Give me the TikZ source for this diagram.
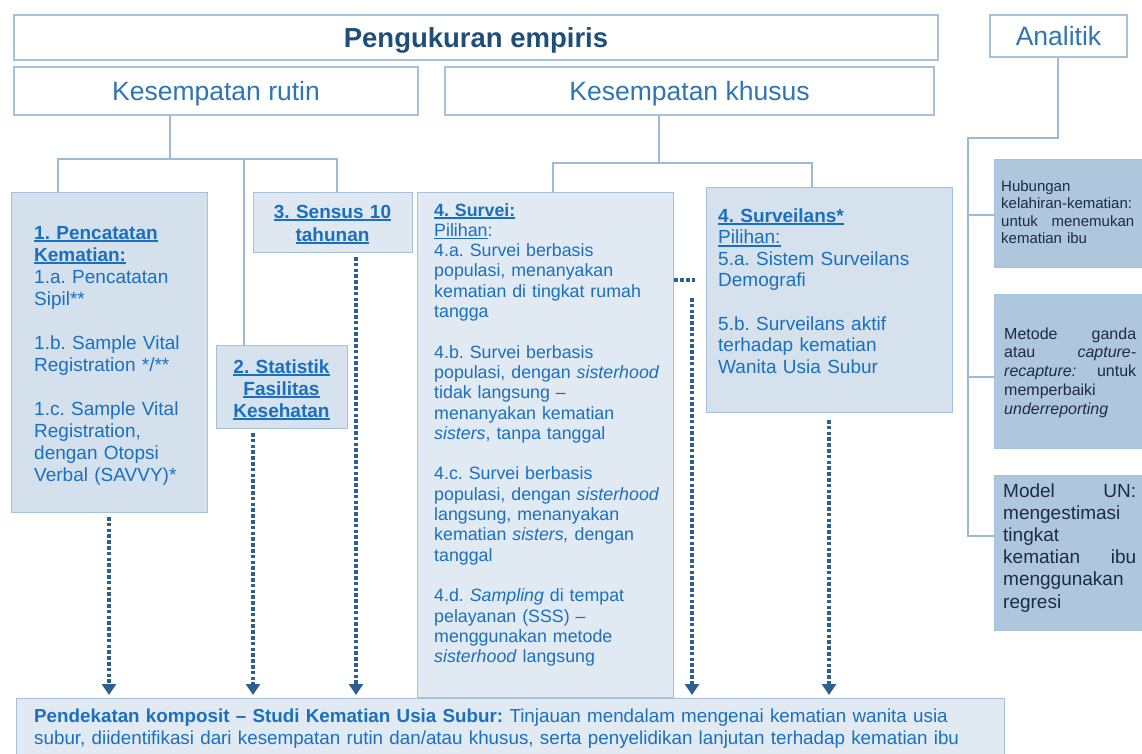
\documentclass[tikz,border=0pt]{standalone}
\usepackage{fontspec}
\setmainfont{Liberation Sans}
\usetikzlibrary{arrows.meta,calc}
\frenchspacing

\definecolor{frame}{HTML}{A7C0DB}
\definecolor{wire}{HTML}{9DB9D8}
\definecolor{titleblue}{HTML}{1F4E79}
\definecolor{headblue}{HTML}{2E75B6}
\definecolor{bodyblue}{HTML}{1A6FBF}
\definecolor{darktext}{HTML}{1E2B44}
\definecolor{dotblue}{HTML}{2D5F91}
\definecolor{fillA}{HTML}{D4E1ED}
\definecolor{fillB}{HTML}{D6E2EE}
\definecolor{fillC}{HTML}{DFE8F1}
\definecolor{fillD}{HTML}{E1EAF3}
\definecolor{fillE}{HTML}{D5E1EC}
\definecolor{fillF}{HTML}{AFC7DD}

% thick rule under a piece of text
\newcommand\ulin[1]{\leavevmode\setbox0\hbox{#1}\rlap{\rule[-3pt]{\wd0}{1.7pt}}\box0}

\tikzset{
  boxshape/.style={draw=frame, line width=1.4pt, inner sep=0pt, anchor=north west},
  headbox/.style={boxshape, fill=white, anchor=center, text depth=0pt},
  txt/.style={inner sep=0pt, anchor=base west, align=left, text=bodyblue},
  ctxt/.style={inner sep=0pt, anchor=base, align=center, text=bodyblue},
  conn/.style={draw=wire, line width=1.3pt},
  dotline/.style={draw=dotblue, line width=4.4pt, dash pattern=on 3.6pt off 2.2pt},
  dotarrow/.style={dotline, -{Triangle[length=11pt,width=14pt]}, shorten >=3pt},
}

\begin{document}
\begin{tikzpicture}[x=1pt,y=-1pt]
\useasboundingbox (0,0) rectangle (1142,754);

% ---- headers ----
\node[headbox, minimum width=924, minimum height=45, text=titleblue,
      font=\fontsize{27.5}{30}\selectfont\bfseries] (emp) at (476,37.5) {Pengukuran empiris};
\node[headbox, minimum width=137, minimum height=42, text=headblue,
      font=\fontsize{26.5}{30}\selectfont] (anal) at (1058.5,36) {Analitik};
\node[headbox, minimum width=404, minimum height=48, text=headblue,
      font=\fontsize{26.5}{30}\selectfont] (rutin) at (216,91) {Kesempatan rutin};
\node[headbox, minimum width=489, minimum height=48, text=headblue,
      font=\fontsize{26.5}{30}\selectfont] (khusus) at (689.5,91) {Kesempatan khusus};

% ---- routine sources ----
\node[boxshape, fill=fillA, minimum width=196, minimum height=320] (b1) at (11,192) {};
\node[txt, text width=170, font=\fontsize{19}{22}\selectfont] (b1t) at (34,239)
  {\textbf{\ulin{1. Pencatatan}}\\
   \textbf{\ulin{Kematian:}}\\
   1.a. Pencatatan\\
   Sipil**\\[22pt]
   1.b. Sample Vital\\
   Registration */**\\[22pt]
   1.c. Sample Vital\\
   Registration,\\
   dengan Otopsi\\
   Verbal (SAVVY)*};

\node[boxshape, fill=fillB, minimum width=131, minimum height=83] (b2) at (216,345) {};
\node[ctxt, text width=130, font=\fontsize{19}{22}\selectfont\bfseries] (b2t) at (281.5,373)
  {\ulin{2. Statistik}\\ \ulin{Fasilitas}\\ \ulin{Kesehatan}};

\node[boxshape, fill=fillC, minimum width=159, minimum height=60] (b3) at (253,192) {};
\node[ctxt, text width=155, font=\fontsize{19}{23}\selectfont\bfseries] (b3t) at (332.5,218)
  {\ulin{3. Sensus 10}\\ \ulin{tahunan}};

% ---- special sources ----
\node[boxshape, fill=fillD, minimum width=256, minimum height=505] (sv) at (417,192) {};
\node[txt, text width=237, font=\fontsize{17.8}{20.3}\selectfont] (svt) at (434,216)
  {\textbf{\ulin{4. Survei:}}\\
   \ulin{Pilihan}:\\
   4.a. Survei berbasis\\
   populasi, menanyakan\\
   kematian di tingkat rumah\\
   tangga\\[20.3pt]
   4.b. Survei berbasis\\
   populasi, dengan \textit{sisterhood}\\
   tidak langsung –\\
   menanyakan kematian\\
   \textit{sisters}, tanpa tanggal\\[20.3pt]
   4.c. Survei berbasis\\
   populasi, dengan \textit{sisterhood}\\
   langsung, menanyakan\\
   kematian \textit{sisters,} dengan\\
   tanggal\\[20.3pt]
   4.d. \textit{Sampling} di tempat\\
   pelayanan (SSS) –\\
   menggunakan metode\\
   \textit{sisterhood} langsung};

\node[boxshape, fill=fillE, minimum width=246, minimum height=225] (sl) at (706,187) {};
\node[txt, text width=230, font=\fontsize{19}{21.6}\selectfont] (slt) at (718,222)
  {\textbf{\ulin{4. Surveilans*}}\\
   \ulin{Pilihan:}\\
   5.a. Sistem Surveilans\\
   Demografi\\[21.6pt]
   5.b. Surveilans aktif\\
   terhadap kematian\\
   Wanita Usia Subur};

% ---- analytic methods ----
\node[boxshape, fill=fillF, minimum width=152, minimum height=108] (h1) at (994,159) {};
\node[txt, text=darktext, text width=133, font=\fontsize{15}{17.5}\selectfont] (h1t) at (1001,191)
  {Hubungan\\
   kelahiran-kematian:\\
   untuk\hfill menemukan\\
   kematian ibu};

\node[boxshape, fill=fillF, minimum width=152, minimum height=154] (h2) at (994,294) {};
\node[txt, text=darktext, text width=132, font=\fontsize{16}{18.8}\selectfont] (h2t) at (1004,339)
  {Metode\hfill ganda\\
   atau\hfill \textit{capture-}\\
   \textit{recapture:}\hfill untuk\\
   memperbaiki\\
   \textit{underreporting}};

\node[boxshape, fill=fillF, minimum width=152, minimum height=155] (h3) at (994,475) {};
\node[txt, text=darktext, text width=133, font=\fontsize{19}{22.2}\selectfont] (h3t) at (1003,497)
  {Model\hfill UN:\\
   mengestimasi\\
   tingkat\\
   kematian\hfill ibu\\
   menggunakan\\
   regresi};

% ---- composite approach ----
\node[boxshape, fill=fillD, minimum width=988, minimum height=60] (bot) at (16,698) {};
\node[txt, text width=952, font=\fontsize{18.8}{22.5}\selectfont] (bott) at (34,722)
  {\makebox[950pt][s]{\textbf{Pendekatan komposit – Studi Kematian Usia Subur:} Tinjauan mendalam mengenai kematian wanita usia}\\
   subur, diidentifikasi dari kesempatan rutin dan/atau khusus, serta penyelidikan lanjutan terhadap kematian ibu};

% ---- tree connectors ----
\coordinate (jr) at (170,159);
\coordinate (rL) at (58,159);
\coordinate (rM) at (244,159);
\coordinate (rR) at (337,159);
\draw[conn] (rutin.south -| jr) -- (jr);
\draw[conn] (rL |- b1.north) -- (rL) -- (rR) -- (rR |- b3.north);
\draw[conn] (rM) -- (rM |- b2.north);

\coordinate (kM) at (659,163);
\coordinate (kL) at (553,163);
\coordinate (kR) at (812,163);
\draw[conn] (khusus.south -| kM) -- (kM);
\draw[conn] (kL |- sv.north) -- (kL) -- (kR) -- (kR |- sl.north);

\coordinate (aT) at (1058,138);
\coordinate (aL) at (968,138);
\coordinate (a1) at (968,215);
\coordinate (a2) at (968,377);
\coordinate (aB) at (968,536);
\draw[conn] (anal.south -| aT) -- (aT) -- (aL) -- (aB) -- (aB -| h3.west);
\draw[conn] (a1) -- (a1 -| h1.west);
\draw[conn] (a2) -- (a2 -| h2.west);

% ---- dotted flows into the composite approach ----
\coordinate (d1) at (109,517);
\coordinate (d2) at (253,433);
\coordinate (d3) at (356,257);
\coordinate (d4) at (697,280);
\coordinate (d5) at (692,298);
\coordinate (d6) at (829,420);
\draw[dotarrow] (d1) -- (d1 |- bot.north);
\draw[dotarrow] (d2) -- (d2 |- bot.north);
\draw[dotarrow] (d3) -- (d3 |- bot.north);
\draw[dotline] (sv.east |- d4) -- (d4);
\draw[dotarrow] (d5) -- (d5 |- bot.north);
\draw[dotarrow] (d6) -- (d6 |- bot.north);
\end{tikzpicture}
\end{document}
